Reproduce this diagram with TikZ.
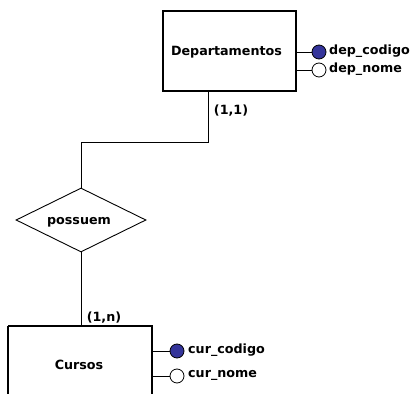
\documentclass[tikz,border=0pt]{standalone}
\usepackage{fontspec}
\setmainfont{DejaVu Sans}
\usetikzlibrary{shapes.geometric}
\definecolor{keyblue}{HTML}{34349A}
\begin{document}
\begin{tikzpicture}[x=1pt,y=-1pt,
  lbl/.style={font=\bfseries\fontsize{12.7}{14}\selectfont, inner sep=0pt},
  ent/.style={draw, line width=1.3pt},
  attr/.style={draw, line width=0.8pt, circle, minimum size=14pt, inner sep=0pt},
  keyattr/.style={attr, fill=keyblue},
  conn/.style={line width=0.9pt}]
\useasboundingbox (0,0) rectangle (416,394);
% Departamentos
\draw[ent] (163,11) rectangle (296,91);
\node[lbl] (dep) at (226.5,52) {Departamentos};
\coordinate (depbot) at (208,91);
\coordinate (depr1) at (296,52);
\coordinate (depr2) at (296,70);
\node[keyattr] (dc) at (319,52) {};
\node[attr] (dn) at (319,70) {};
\node[lbl, anchor=west] (dct) at (329,51) {dep\_codigo};
\node[lbl, anchor=west] (dnt) at (329,69) {dep\_nome};
\draw[conn] (depr1) -- (dc.west);
\draw[conn] (depr2) -- (dn.west);
% relationship
\node[draw, conn, diamond, aspect=2, minimum width=130pt, minimum height=64pt, inner sep=0pt] (rel) at (81,220) {};
\node[lbl] (relt) at (79,222) {possuem};
\coordinate (bend1) at (208,142);
\coordinate (bend2) at (81,142);
\draw[conn] (depbot) -- (bend1) -- (bend2) -- (rel.north);
\node[lbl] (c11) at (231,111) {(1,1)};
\node[lbl] (c1n) at (104,318) {(1,n)};
% Cursos
\draw[ent] (8,326) -- (8,400) (8,326) -- (152,326) -- (152,400);
\coordinate (curtop) at (81,326);
\draw[conn] (rel.south) -- (curtop);
\node[lbl] (cur) at (79,365) {Cursos};
\coordinate (curr1) at (152,351);
\coordinate (curr2) at (152,376);
\node[keyattr] (cc) at (177,351) {};
\node[attr] (cn) at (177,376) {};
\node[lbl, anchor=west] (cct) at (188,350) {cur\_codigo};
\node[lbl, anchor=west] (cnt) at (188,375) {cur\_nome};
\draw[conn] (curr1) -- (cc.west);
\draw[conn] (curr2) -- (cn.west);
\end{tikzpicture}
\end{document}
